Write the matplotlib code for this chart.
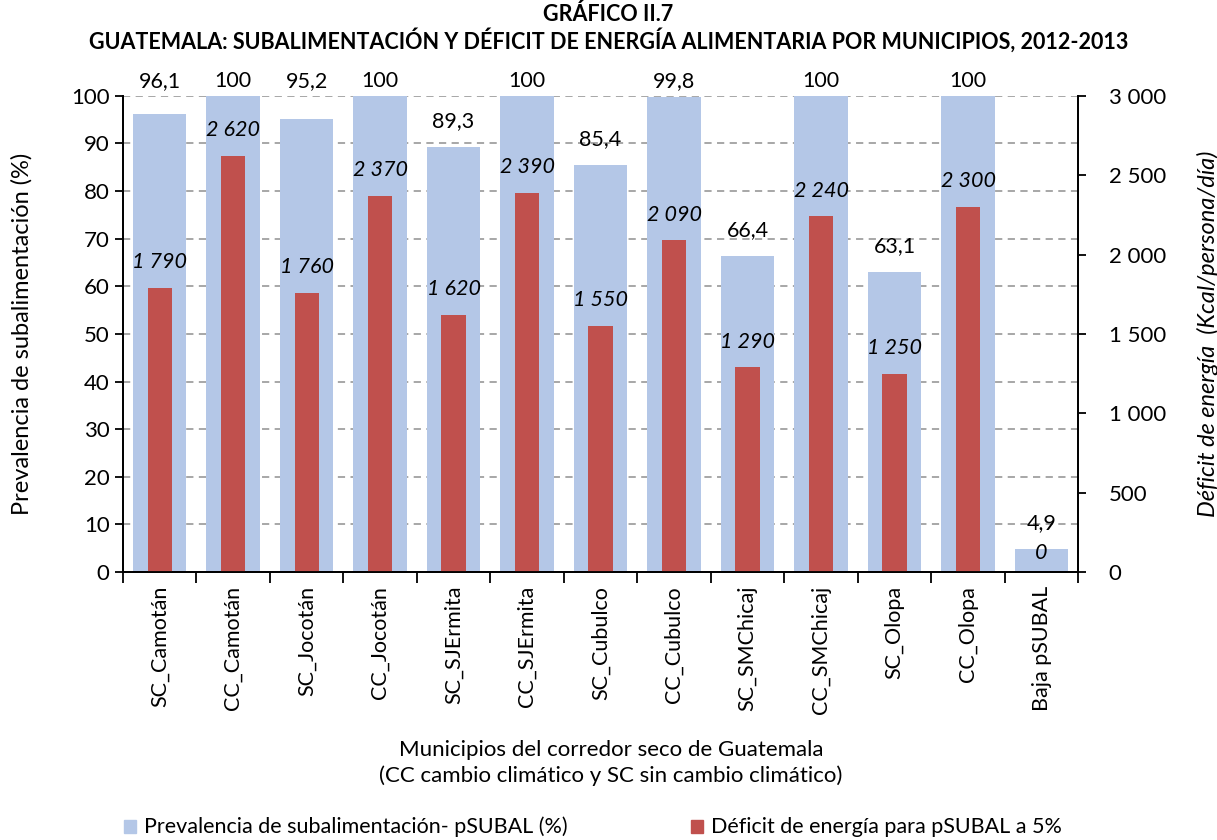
import numpy as np
import matplotlib.pyplot as plt
from matplotlib.ticker import FuncFormatter

plt.rcParams['font.family'] = ['Lato', 'DejaVu Sans']

## data
categorias = ["SC_Camotán", "CC_Camotán", "SC_Jocotán", "CC_Jocotán", "SC_SJErmita",
              "CC_SJErmita", "SC_Cubulco", "CC_Cubulco", "SC_SMChicaj", "CC_SMChicaj",
              "SC_Olopa", "CC_Olopa", "Baja pSUBAL"]
prevalencia = [96.1, 100, 95.2, 100, 89.3, 100, 85.4, 99.8, 66.4, 100, 63.1, 100, 4.9]
deficit = [1790, 2620, 1760, 2370, 1620, 2390, 1550, 2090, 1290, 2240, 1250, 2300, 0]

azul = "#b4c7e7"
rojo = "#c0504d"


def miles(v, pos=None):
    return f"{int(v):,}".replace(",", " ")


def coma(v):
    s = f"{v:g}"
    return s.replace(".", ",")


fig = plt.figure(figsize=(12.17, 8.4), dpi=100)
ax = fig.add_axes([0.101, 0.319, 0.785, 0.567])
ax2 = ax.twinx()

x = np.arange(len(categorias))
ax.bar(x, prevalencia, width=0.73, color=azul, zorder=2)
ax.set_ylim(0, 100)
ax.set_xlim(-0.5, len(categorias) - 0.5)

# red bars drawn on the right scale but on the left axes so blue stays behind
escala = 100 / 3000.0
ax.bar(x, np.array(deficit) * escala, width=0.33, color=rojo, zorder=3)

ax.set_yticks(np.arange(0, 101, 10))
ax.yaxis.grid(True, linestyle=(0, (4, 3)), color="#a0a0a0", linewidth=1.3, zorder=1)
ax.set_axisbelow(True)

ax2.set_ylim(0, 3000)
ax2.set_yticks(np.arange(0, 3001, 500))
ax2.yaxis.set_major_formatter(FuncFormatter(miles))

# value labels
for i in range(len(categorias)):
    yb = prevalencia[i] + 5.4
    if yb > 100:
        yb = 103
    ax.text(x[i], yb, coma(prevalencia[i]), ha="center", va="center",
            fontsize=15.5, clip_on=False, zorder=5)
    yr = deficit[i] * escala + 5.4
    if deficit[i] == 0:
        yr = 4.0
    ax.text(x[i], yr, miles(deficit[i]), ha="center", va="center",
            fontsize=15.5, style="italic", zorder=5)

# ticks between categories
ax.set_xticks(np.arange(-0.5, len(categorias), 1))
ax.set_xticklabels([])
ax.set_xticks(x, minor=True)
ax.set_xticklabels(categorias, minor=True, rotation=90, fontsize=15.5)
ax.tick_params(axis="x", which="minor", length=0, pad=10)
ax.tick_params(axis="x", which="major", length=8, width=1.3, direction="out")
ax.tick_params(axis="y", length=6, width=1.3, labelsize=16)
ax2.tick_params(axis="y", length=6, width=1.3, labelsize=16, pad=16)

for a in (ax, ax2):
    a.spines["top"].set_visible(False)
    for s in ("left", "right", "bottom"):
        a.spines[s].set_linewidth(1.3)

ax.set_ylabel("Prevalencia de subalimentación (%)", fontsize=17, labelpad=28)
ax2.set_ylabel("Déficit de energía  (Kcal/persona/día)", fontsize=17,
               style="italic", labelpad=22)

fig.text(0.5, 0.983, "GRÁFICO II.7", ha="center", va="center",
         fontsize=15.5, fontweight="bold")
fig.text(0.5, 0.952,
         "GUATEMALA: SUBALIMENTACIÓN Y DÉFICIT DE ENERGÍA ALIMENTARIA POR MUNICIPIOS, 2012-2013",
         ha="center", va="center", fontsize=15.5, fontweight="bold")

fig.text(0.502, 0.107, "Municipios del corredor seco de Guatemala",
         ha="center", va="center", fontsize=16)
fig.text(0.502, 0.076, "(CC cambio climático y SC sin cambio climático)",
         ha="center", va="center", fontsize=16)

# legend
fig.patches.append(plt.Rectangle((0.102, 0.008), 0.010, 0.016, color=azul,
                                 transform=fig.transFigure, figure=fig))
fig.text(0.118, 0.016, "Prevalencia de subalimentación- pSUBAL (%)",
         ha="left", va="center", fontsize=15.5)
fig.patches.append(plt.Rectangle((0.568, 0.008), 0.010, 0.016, color=rojo,
                                 transform=fig.transFigure, figure=fig))
fig.text(0.584, 0.016, "Déficit de energía para pSUBAL a 5%",
         ha="left", va="center", fontsize=15.5)

fig.savefig("out.png", dpi=100)
